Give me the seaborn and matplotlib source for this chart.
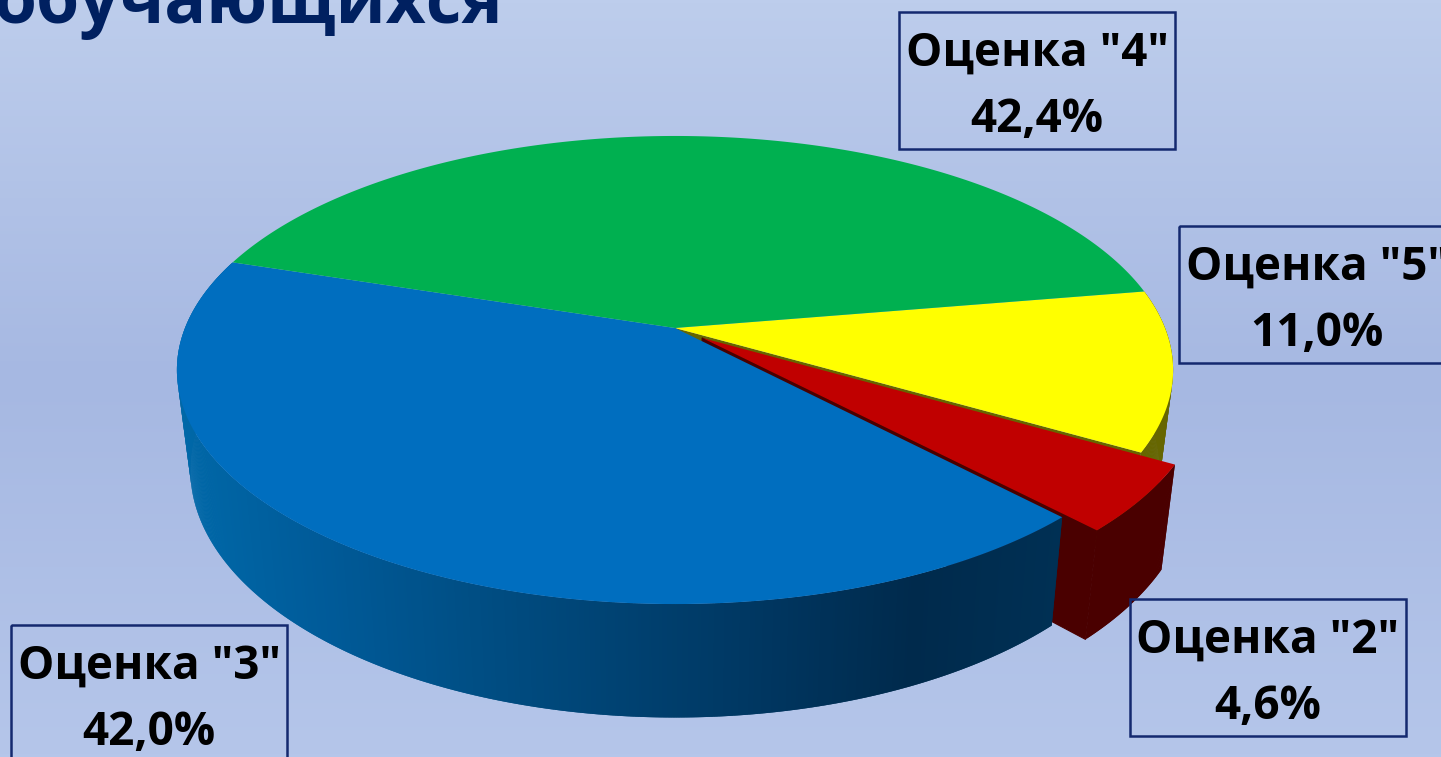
import numpy as np
import matplotlib
matplotlib.use("Agg")
import matplotlib.pyplot as plt
from matplotlib.collections import PolyCollection
from matplotlib.patches import Polygon, Rectangle
import seaborn as sns

# Chart data (clockwise from the green slice)
grades = ["4", "5", "2", "3"]
shares = [42.4, 11.0, 4.6, 42.0]
top_colors = ["#00B050", "#FFFF00", "#C00000", "#006EBF"]
side_colors = ["#005828", "#666600", "#4A0000", "#003A66"]

title_text = "обучающихся"

# Label boxes (left, top) in pixels, same order as grades
box_pos = [(899, 12), (1179, 226), (1130, 599), (11, 625)]
BOX_W, BOX_H = 276, 137

# Perspective of the pie, fitted on the picture
START_ANGLE = 162.2
TILT = 0.1795
EXPLODE = 0.07
CX, CY_TOP, CY_BOTTOM = 675, 328, 425
A_TOP, B_TOP = 490, 226.5
A_BOTTOM, B_BOTTOM = 476.8, 240


def project(theta, level="top", shift=(0.0, 0.0), radius=1.0):
    """Map angle on the unit disc to pixels, far side gets smaller."""
    x = radius * np.cos(np.radians(theta)) + shift[0]
    y = radius * np.sin(np.radians(theta)) + shift[1]
    w = 1 + TILT * y
    if level == "top":
        return np.column_stack([CX + A_TOP * x / w, CY_TOP - B_TOP * y / w])
    return np.column_stack([CX + A_BOTTOM * x / w, CY_BOTTOM - B_BOTTOM * y / w])


def arc(a0, a1):
    return np.linspace(a0, a1, max(int(abs(a1 - a0) * 4), 2))


def wedge_top(a0, a1, shift=(0.0, 0.0)):
    apex = project(np.array([0.0]), "top", shift, radius=0.0)
    return np.vstack([apex, project(arc(a0, a1), "top", shift)])


def side_strips(a0, a1, shift=(0.0, 0.0)):
    """Outer wall as strips, each overlaps the next one so no seams show."""
    t = arc(a0, a1)
    top_pts, bottom_pts = project(t, "top", shift), project(t, "bottom", shift)
    quads = []
    for i in range(len(t) - 1):
        j = min(i + 2, len(t) - 1)
        quads.append([top_pts[i], top_pts[j], bottom_pts[j], bottom_pts[i]])
    return quads, bottom_pts[:-1, 0]


def radial_face(a, shift=(0.0, 0.0)):
    t = np.array([a])
    return np.vstack([
        project(t, "top", shift, radius=0.0),
        project(t, "top", shift),
        project(t, "bottom", shift),
        project(t, "bottom", shift, radius=0.0),
    ])


sns.set_theme(style="white")
plt.rcParams["font.family"] = ["Open Sans", "DejaVu Sans"]

fig = plt.figure(figsize=(14.41, 7.57), dpi=100)
ax = fig.add_axes([0, 0, 1, 1])
ax.set_xlim(0, 1441)
ax.set_ylim(757, 0)
ax.axis("off")

# Background, vertical gradient
bg = np.array(sns.blend_palette(["#BDCDEC", "#A6B8E2", "#B5C6EA"], n_colors=757))
ax.imshow(bg[:, None, :], extent=(0, 1441, 757, 0), aspect="auto", zorder=0)

# Slice angles from the shares
edges = START_ANGLE - np.cumsum([0] + shares) * 3.6
a4 = (edges[0], edges[1])
a5 = (edges[1], edges[2])
a2 = (edges[2], edges[3])
a3 = (edges[3], edges[4])

mid = np.radians((a2[0] + a2[1]) / 2)
shift2 = (EXPLODE * np.cos(mid), EXPLODE * np.sin(mid))

# Yellow side and the cut face that the pulled out red slice uncovers
quads5, _ = side_strips(a5[1], a5[0])
ax.add_collection(PolyCollection(quads5, facecolors=side_colors[1], edgecolors="none", zorder=1))
ax.add_patch(Polygon(radial_face(a5[1]), fc=side_colors[1], ec="none", zorder=1))
ax.add_patch(Polygon(wedge_top(*a5), fc=top_colors[1], ec="none", zorder=2))

# Red slice
quads2, _ = side_strips(a2[1], a2[0], shift2)
ax.add_patch(Polygon(radial_face(a2[1], shift2), fc=side_colors[2], ec=side_colors[2], lw=0.8, zorder=3))
ax.add_collection(PolyCollection(quads2, facecolors=side_colors[2], edgecolors="none", zorder=3))
ax.add_patch(Polygon(wedge_top(*a2, shift2), fc=top_colors[2], ec="none", zorder=4))

# Blue side, shaded left to right in thin strips
blue_shades = sns.blend_palette(
    ["#0068A8", "#005A98", "#004E84", "#004272", "#003660", "#002A4C", "#003054"], n_colors=256
)
quads3, strip_x = side_strips(a3[1], a3[0])
positions = np.clip((strip_x - 190) / (1050 - 190), 0, 1)
colors = [blue_shades[int(p * 255)] for p in positions]
ax.add_collection(PolyCollection(quads3, facecolors=colors, edgecolors="none", zorder=5))

# Blue and green tops
ax.add_patch(Polygon(wedge_top(*a3), fc=top_colors[3], ec="none", zorder=6))
ax.add_patch(Polygon(wedge_top(*a4), fc=top_colors[0], ec="none", zorder=6))

# Labels
for grade, share, (left, top) in zip(grades, shares, box_pos):
    ax.add_patch(
        Rectangle((left, top), BOX_W, BOX_H, fc="none", ec="#14296F", lw=1.8, zorder=7)
    )
    label = f'Оценка "{grade}"\n{share:.1f}%'.replace(".", ",")
    ax.text(
        left + BOX_W / 2, top + 74, label, ha="center", va="center",
        fontsize=33, fontweight="bold", color="black", linespacing=1.53, zorder=8,
    )

# Title is cut off by the top edge of the slide
ax.text(-6, 23, title_text, ha="left", va="baseline", fontsize=50,
        fontweight="bold", color="#002060", zorder=8)

fig.savefig("out.png", dpi=100)
